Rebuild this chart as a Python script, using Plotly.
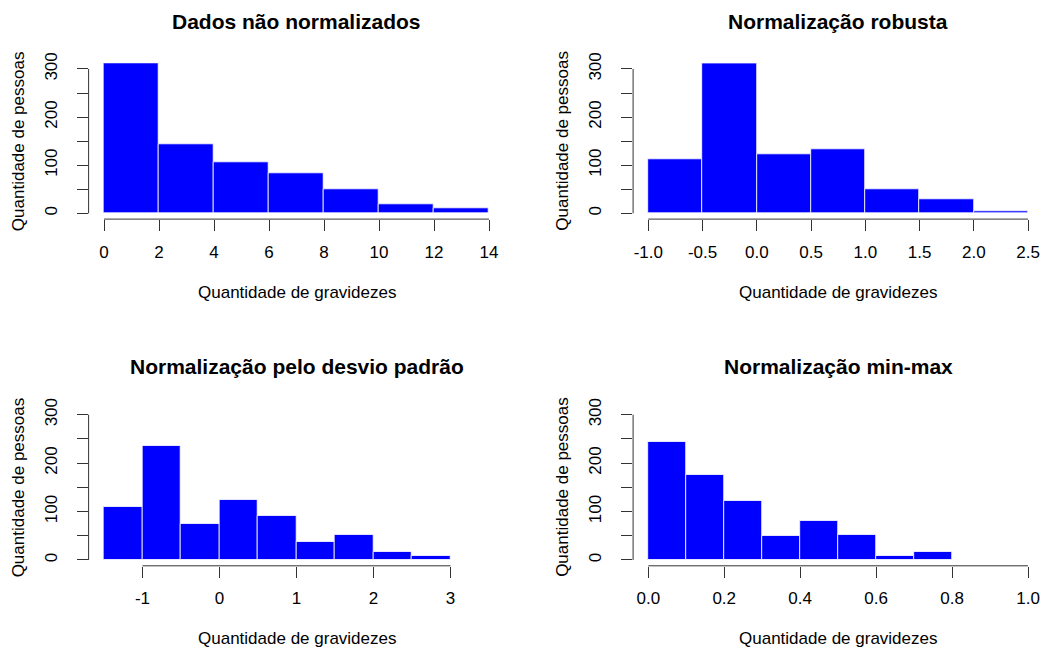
import plotly.graph_objects as go

# Histogram bin edges and counts for each panel
edges_raw = [0, 2, 4, 6, 8, 10, 12, 14]
counts_raw = [314, 143, 106, 83, 51, 20, 10]

edges_robust = [-1.0, -0.5, 0.0, 0.5, 1.0, 1.5, 2.0, 2.5]
counts_robust = [112, 311, 123, 134, 51, 29, 4]

edges_std = [-1.5, -1.0, -0.5, 0.0, 0.5, 1.0, 1.5, 2.0, 2.5, 3.0]
counts_std = [109, 235, 74, 124, 92, 37, 52, 17, 8]

edges_minmax = [0.0, 0.1, 0.2, 0.3, 0.4, 0.5, 0.6, 0.7, 0.8]
counts_minmax = [243, 175, 123, 50, 80, 52, 8, 17]

# Axis ticks and labels
xticks_raw = [0, 2, 4, 6, 8, 10, 12, 14]
xticks_robust = [-1.0, -0.5, 0.0, 0.5, 1.0, 1.5, 2.0, 2.5]
xlabels_robust = ["-1.0", "-0.5", "0.0", "0.5", "1.0", "1.5", "2.0", "2.5"]
xticks_std = [-1, 0, 1, 2, 3]
xlabels_std = ["-1", "0", "1", "2", "3"]
xticks_minmax = [0.0, 0.2, 0.4, 0.6, 0.8, 1.0]
xlabels_minmax = ["0.0", "0.2", "0.4", "0.6", "0.8", "1.0"]
yticks = [0, 50, 100, 150, 200, 250, 300]
ylabels = ["0", "", "100", "", "200", "", "300"]

titles = ["Dados não normalizados", "Normalização robusta",
          "Normalização pelo desvio padrão", "Normalização min-max"]
xlab = "Quantidade de gravidezes"
ylab = "Quantidade de pessoas"

W, H = 1050, 650
FONT = "Liberation Sans, Arial, sans-serif"
AXIS_COLOR = "#333333"
TXT = 17


def pad(lo, hi):
    d = (hi - lo) * 0.04
    return [lo - d, hi + d]


# plot-region pixel boxes: (left, right, top, bottom)
boxes = [
    (88.6, 504.4, 63.2, 219.1),
    (633.1, 1043.2, 63.2, 219.1),
    (88.6, 504.4, 408.9, 565.8),
    (633.1, 1043.2, 408.9, 565.8),
]

panels = [
    (edges_raw, counts_raw, (0, 14), xticks_raw, [str(v) for v in xticks_raw]),
    (edges_robust, counts_robust, (-1.0, 2.5), xticks_robust, xlabels_robust),
    (edges_std, counts_std, (-1.5, 3.5), xticks_std, xlabels_std),
    (edges_minmax, counts_minmax, (0.0, 1.0), xticks_minmax, xlabels_minmax),
]

fig = go.Figure()
layout = {}
shapes = []
annotations = []

for i, ((edges, counts, xlim, xt, xl), box, title) in enumerate(zip(panels, boxes, titles)):
    n = i + 1
    xa = "x" if n == 1 else f"x{n}"
    ya = "y" if n == 1 else f"y{n}"
    left, right, top, bottom = box

    centers = [(a + b) / 2 for a, b in zip(edges[:-1], edges[1:])]
    widths = [b - a for a, b in zip(edges[:-1], edges[1:])]
    fig.add_trace(go.Bar(
        x=centers, y=counts, width=widths,
        marker=dict(color="#0000FF", line=dict(color="white", width=0.8)),
        xaxis=xa, yaxis=ya, showlegend=False, hoverinfo="x+y",
    ))

    layout[f"xaxis{n if n > 1 else ''}"] = dict(
        domain=[left / W, right / W], anchor=ya, range=pad(*xlim),
        automargin=False,
        showline=False, showgrid=False, zeroline=False,
        tickmode="array", tickvals=xt, ticktext=xl,
        ticks="outside", ticklen=11, tickwidth=1, tickcolor=AXIS_COLOR,
        tickfont=dict(family=FONT, size=TXT, color="black"),
        ticklabelstandoff=6, fixedrange=True,
    )
    layout[f"yaxis{n if n > 1 else ''}"] = dict(
        domain=[1 - bottom / H, 1 - top / H], anchor=xa, range=pad(0, 300),
        automargin=False,
        showline=False, showgrid=False, zeroline=False,
        tickmode="array", tickvals=yticks, ticktext=ylabels,
        ticks="outside", ticklen=11, tickwidth=1, tickcolor=AXIS_COLOR,
        tickangle=-90,
        tickfont=dict(family=FONT, size=TXT, color="black"),
        ticklabelstandoff=13, fixedrange=True,
    )

    # axis lines spanning first to last tick
    shapes.append(dict(type="line", xref=xa, yref=f"{ya} domain",
                       x0=xt[0], x1=xt[-1], y0=0, y1=0,
                       line=dict(color=AXIS_COLOR, width=1)))
    shapes.append(dict(type="line", xref=f"{xa} domain", yref=ya,
                       x0=0, x1=0, y0=yticks[0], y1=yticks[-1],
                       line=dict(color=AXIS_COLOR, width=1)))

    cx = (left + right) / 2 / W
    cy = (top + bottom) / 2
    annotations.append(dict(text=f"<b>{title}</b>", xref="paper", yref="paper",
                            x=cx, y=1 - (top - 42) / H, showarrow=False,
                            xanchor="center", yanchor="middle",
                            font=dict(family=FONT, size=21, color="black")))
    annotations.append(dict(text=xlab, xref="paper", yref="paper",
                            x=cx, y=1 - (bottom + 73) / H, showarrow=False,
                            xanchor="center", yanchor="middle",
                            font=dict(family=FONT, size=TXT, color="black")))
    annotations.append(dict(text=ylab, xref="paper", yref="paper",
                            x=(left - 70.6) / W, y=1 - cy / H, showarrow=False,
                            textangle=-90, xanchor="center", yanchor="middle",
                            font=dict(family=FONT, size=TXT, color="black")))

fig.update_layout(
    width=W, height=H, margin=dict(l=0, r=0, t=0, b=0, autoexpand=False),
    paper_bgcolor="white", plot_bgcolor="white",
    bargap=0, shapes=shapes, annotations=annotations, **layout,
)

fig.write_html("out.html")
